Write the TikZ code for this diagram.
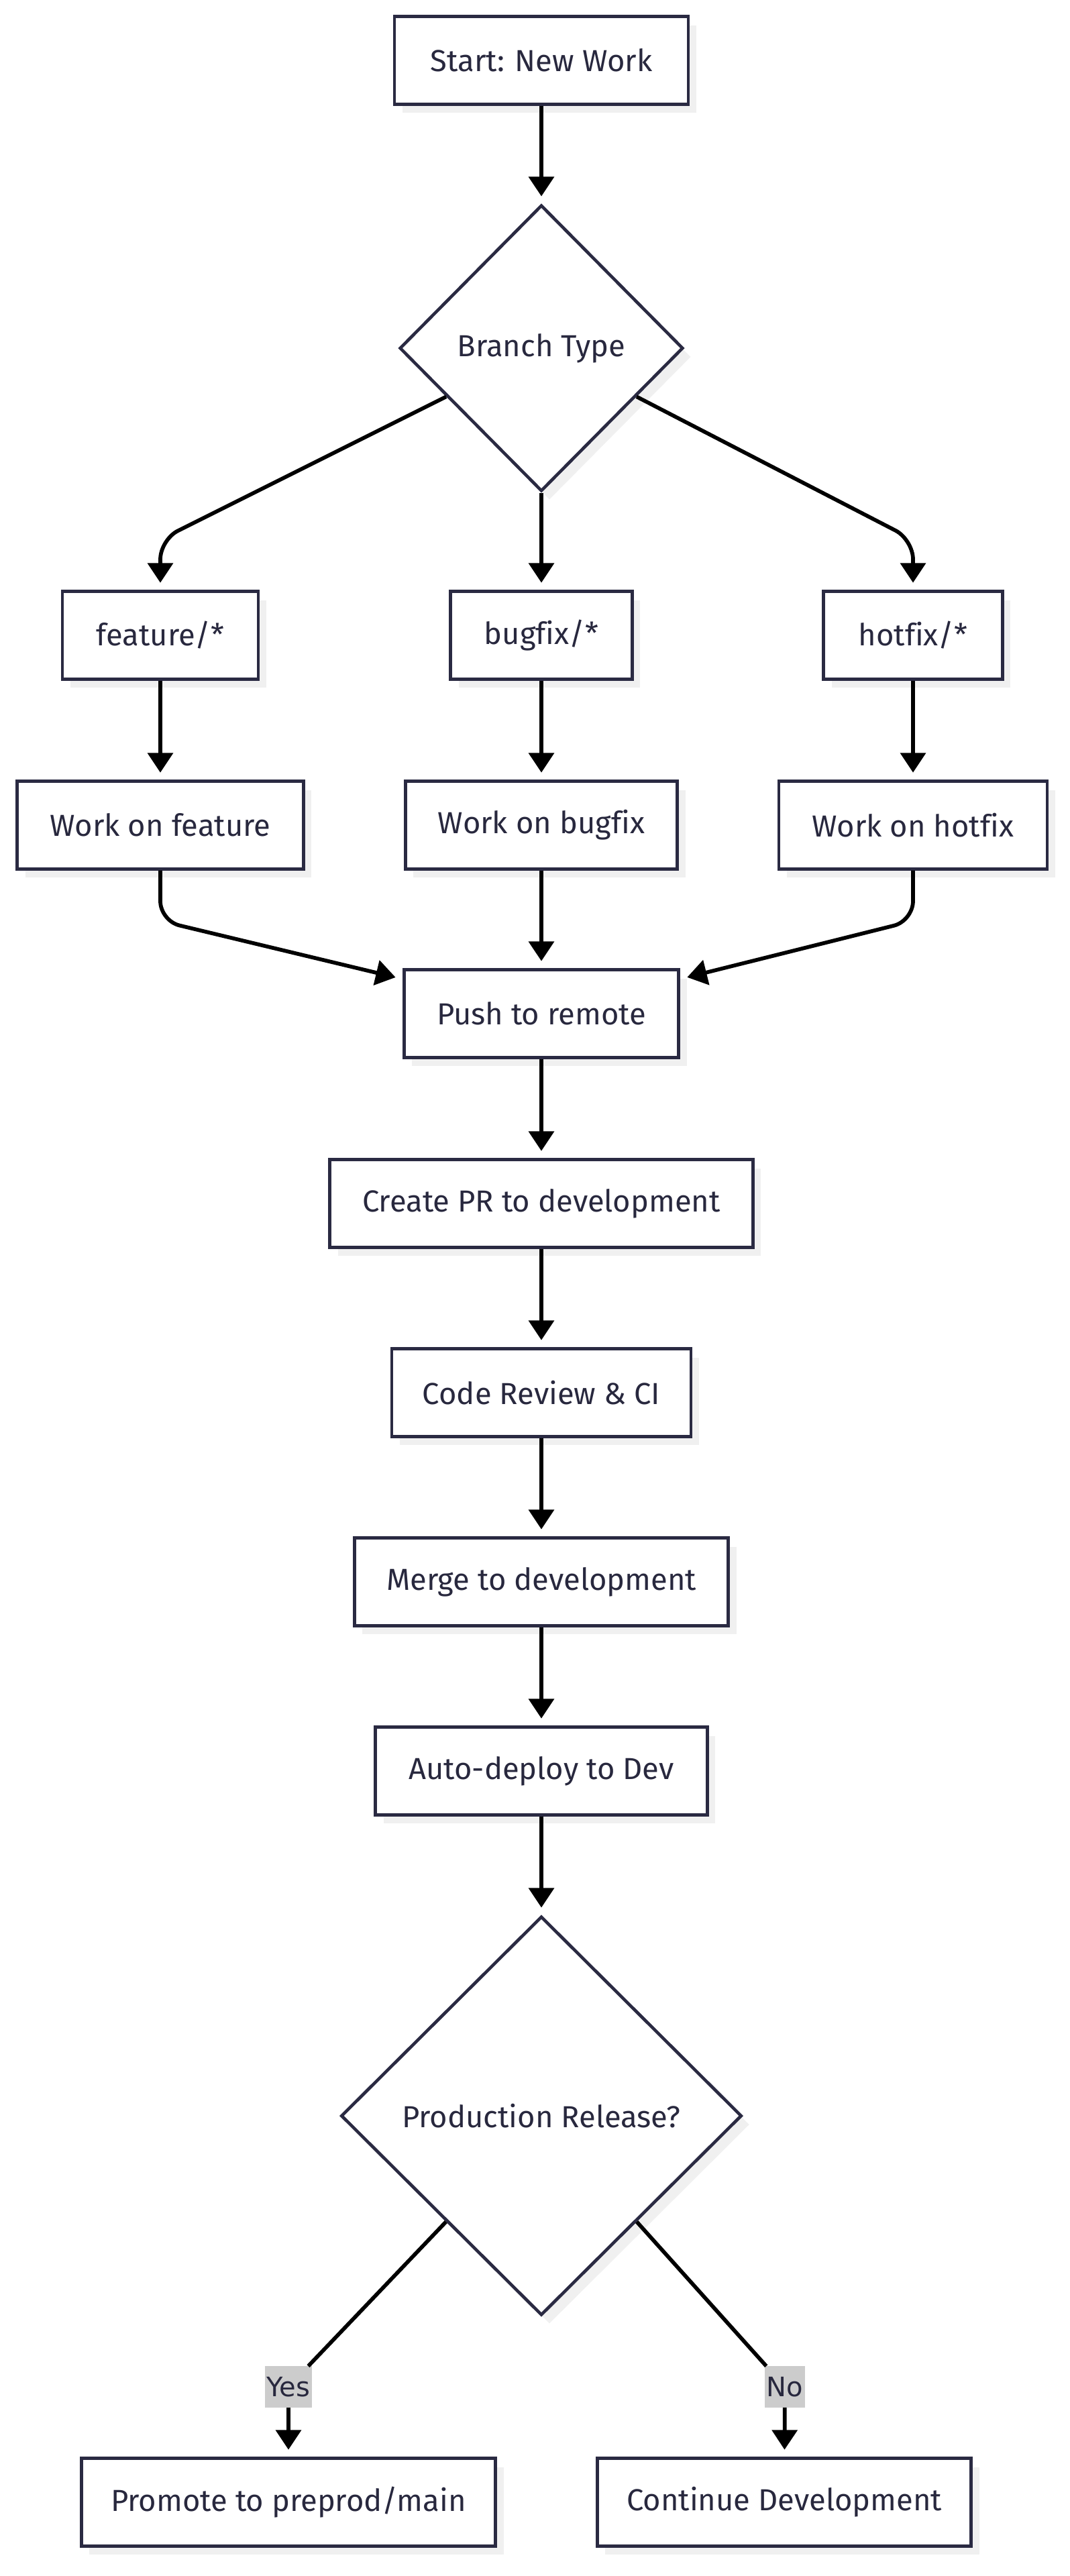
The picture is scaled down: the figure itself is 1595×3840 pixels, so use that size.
\documentclass[tikz,border=0pt]{standalone}
\usepackage{fontspec}
\setmainfont[Ligatures=NoCommon]{Fira Sans}
\newfontfamily\lblfont{DejaVu Sans}
\usetikzlibrary{shapes.geometric,arrows.meta,calc,shadows}

\definecolor{boxline}{RGB}{42,42,66}
\definecolor{boxtext}{RGB}{40,40,62}
\definecolor{boxshade}{RGB}{240,240,240}
\definecolor{lblfill}{RGB}{204,204,204}

\tikzset{
  flowbox/.style={draw=boxline, line width=3.5pt, fill=white, text=boxtext,
    font=\fontsize{34}{40}\selectfont, minimum height=98pt, inner sep=0pt,
    drop shadow={shadow xshift=9pt, shadow yshift=-9.75pt, fill=boxshade, opacity=1}},
  decision/.style={flowbox, diamond, aspect=1},
  link/.style={draw=black, line width=4.3pt, -{Triangle[length=22pt,width=28pt]},
    shorten >=8pt, rounded corners=22pt},
  plainlink/.style={draw=black, line width=4.3pt},
  linklabel/.style={fill=lblfill, text=boxtext, font=\lblfont\fontsize{30}{36}\selectfont,
    minimum height=46pt, inner xsep=2pt, inner ysep=0pt}
}

\begin{document}
\begin{tikzpicture}[x=0.75pt,y=0.75pt,yscale=-1,xscale=1]
%set diagram size: 1595 x 3840
\path [fill=white] (0,0) rectangle (1595,3840);
\useasboundingbox (0,0) rectangle (1595,3840);

% Start
\node [flowbox, minimum width=328.5pt] (start) at (807,90) {Start: New Work};
% Decision: branch type
\node [decision, minimum width=317pt, minimum height=320pt] (branch) at (807,519) {Branch Type};

% Branch boxes
\node [flowbox, minimum width=219pt] (feature) at (239,947) {feature/*};
\node [flowbox, minimum width=203pt] (bugfix) at (807,947) {bugfix/*};
\node [flowbox, minimum width=200pt] (hotfix) at (1361,947) {hotfix/*};

% Work boxes
\node [flowbox, minimum width=320pt] (workfeat) at (239,1230) {Work on feature};
\node [flowbox, minimum width=304pt] (workbug) at (807,1230) {Work on bugfix};
\node [flowbox, minimum width=300pt] (workhot) at (1361,1230) {Work on hotfix};

% Main column
\node [flowbox, minimum width=307pt] (push) at (807,1511) {Push to remote};
\node [flowbox, minimum width=473pt] (createpr) at (807,1794) {Create PR to development};
\node [flowbox, minimum width=334.5pt] (review) at (807,2076) {Code Review \& CI};
\node [flowbox, minimum width=418pt] (merge) at (807,2358) {Merge to development};
\node [flowbox, minimum width=371pt] (autodeploy) at (807,2640) {Auto-deploy to Dev};

% Decision: production release
\node [decision, minimum width=448pt, minimum height=446pt] (release) at (807,3154) {Production Release?};

% End boxes
\node [flowbox, minimum width=463pt] (promote) at (430,3730) {Promote to preprod/main};
\node [flowbox, minimum width=418pt] (continue) at (1169,3730) {Continue Development};

% Edge labels
\node [linklabel, minimum width=53pt] (yes) at (430,3558) {Yes};
\node [linklabel, minimum width=40pt] (no) at (1170,3558) {No};

%Straight Lines
\draw [link] (start) -- (branch);
\draw [link] (branch.207) -- ($(feature.north)+(0,-75)$) -- (feature.north);
\draw [link] (branch) -- (bugfix);
\draw [link] (branch.333) -- ($(hotfix.north)+(0,-75)$) -- (hotfix.north);

\draw [link] (feature) -- (workfeat);
\draw [link] (bugfix) -- (workbug);
\draw [link] (hotfix) -- (workhot);

\draw [link] (workfeat.south) -- ($(workfeat.south)+(0,75)$) -- (push.166);
\draw [link] (workbug) -- (push);
\draw [link] (workhot.south) -- ($(workhot.south)+(0,75)$) -- (push.14);

\draw [link] (push) -- (createpr);
\draw [link] (createpr) -- (review);
\draw [link] (review) -- (merge);
\draw [link] (merge) -- (autodeploy);
\draw [link] (autodeploy) -- (release);

\draw [plainlink] (release.228) -- (yes);
\draw [link] (yes) -- (promote);
\draw [plainlink] (release.312) -- (no);
\draw [link] (no) -- (continue);

\end{tikzpicture}
\end{document}
